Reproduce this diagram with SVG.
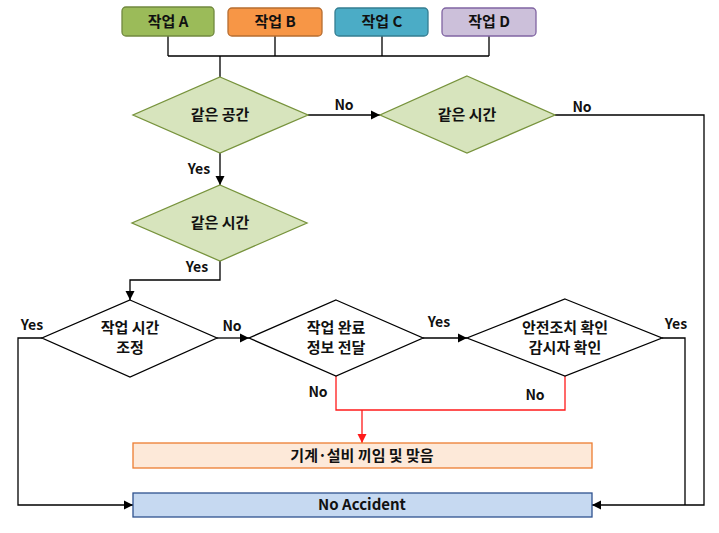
<svg xmlns="http://www.w3.org/2000/svg" width="719" height="533" viewBox="0 0 719 533">
<defs>
<style>
text{font-family:"Malgun Gothic","Noto Sans CJK KR","Noto Sans",sans-serif;font-size:15px;font-weight:bold;fill:#111;text-anchor:middle}
.lbl{font-size:14px}
.ln{fill:none;stroke:#000;stroke-width:1.3}
.red{fill:none;stroke:#FF1A1A;stroke-width:1.3}
.dg{fill:#D7E4BD;stroke:#77933C;stroke-width:1.3}
.dw{fill:#fff;stroke:#000;stroke-width:1.3}
</style>
<marker id="ah" viewBox="0 0 10 10" refX="10" refY="5" markerWidth="9" markerHeight="10" markerUnits="userSpaceOnUse" orient="auto"><path d="M0,0 L10,5 L0,10 z" fill="#000"/></marker>
<marker id="ahr" viewBox="0 0 10 10" refX="10" refY="5" markerWidth="9" markerHeight="10" markerUnits="userSpaceOnUse" orient="auto"><path d="M0,0 L10,5 L0,10 z" fill="#FF1A1A"/></marker>
</defs>
<rect width="719" height="533" fill="#fff"/>
<g id="connectors">
<path class="ln" d="M168,36 V56 M275,36 V56 M382,36 V56 M489,36 V56 M168,56 H489 M220,56 V77"/>
<path class="ln" d="M308,115 H380" marker-end="url(#ah)"/>
<path class="ln" d="M555,115 H704 V505 H592" marker-end="url(#ah)"/>
<path class="ln" d="M220,153 V185" marker-end="url(#ah)"/>
<path class="ln" d="M220,261 V280 H130 V300" marker-end="url(#ah)"/>
<path class="ln" d="M42,338 H18 V505 H133" marker-end="url(#ah)"/>
<path class="ln" d="M217,338 H249" marker-end="url(#ah)"/>
<path class="ln" d="M423,338 H467" marker-end="url(#ah)"/>
<path class="ln" d="M662,338 H685 V505"/>
<path class="red" d="M336,376 V410 H565 V376"/>
<path class="red" d="M362,410 V443" marker-end="url(#ahr)"/>
<text class="lbl" x="344" y="110">No</text>
<text class="lbl" x="582" y="112">No</text>
<text class="lbl" x="199" y="174">Yes</text>
<text class="lbl" x="197" y="272">Yes</text>
<text class="lbl" x="32" y="330">Yes</text>
<text class="lbl" x="232" y="331">No</text>
<text class="lbl" x="439" y="327">Yes</text>
<text class="lbl" x="676" y="329">Yes</text>
<text class="lbl" x="318" y="397">No</text>
<text class="lbl" x="535" y="400">No</text>
</g>
<g id="taskA"><rect x="122" y="7" width="92" height="29" rx="4" fill="#9BBB59" stroke="#71893F" stroke-width="1.3"/><text x="168" y="27">작업 A</text></g>
<g id="taskB"><rect x="228" y="8" width="94" height="28" rx="4" fill="#F79646" stroke="#B66D31" stroke-width="1.3"/><text x="275" y="27">작업 B</text></g>
<g id="taskC"><rect x="335" y="8" width="93" height="28" rx="4" fill="#4BACC6" stroke="#357D91" stroke-width="1.3"/><text x="382" y="27">작업 C</text></g>
<g id="taskD"><rect x="442" y="8" width="94" height="28" rx="4" fill="#CCC0DA" stroke="#8064A2" stroke-width="1.3"/><text x="489" y="27">작업 D</text></g>
<g id="sameSpace"><polygon class="dg" points="220,77 308,115 220,153 133,115"/><text x="220" y="120">같은 공간</text></g>
<g id="sameTime1"><polygon class="dg" points="467,76 555,115 467,153 380,115"/><text x="467" y="120">같은 시간</text></g>
<g id="sameTime2"><polygon class="dg" points="220,185 307,223 220,261 132,223"/><text x="220" y="228">같은 시간</text></g>
<g id="adjust"><polygon class="dw" points="130,300 217,338 130,377 42,338"/><text x="130" y="333">작업 시간</text><text x="130" y="353">조정</text></g>
<g id="inform"><polygon class="dw" points="336,300 423,338 336,376 249,338"/><text x="336" y="333">작업 완료</text><text x="336" y="353">정보 전달</text></g>
<g id="check"><polygon class="dw" points="565,299 662,338 565,376 467,338"/><text x="565" y="333">안전조치 확인</text><text x="565" y="353">감시자 확인</text></g>
<g id="accident"><rect x="133" y="443" width="459" height="25" fill="#FDE9D9" stroke="#ED7D31" stroke-width="1.3"/><text x="362" y="461">기계·설비 끼임 및 맞음</text></g>
<g id="noAccident"><rect x="133" y="493" width="459" height="24" fill="#C6D9F1" stroke="#2F528F" stroke-width="1.3"/><text x="362" y="510">No Accident</text></g>
</svg>
